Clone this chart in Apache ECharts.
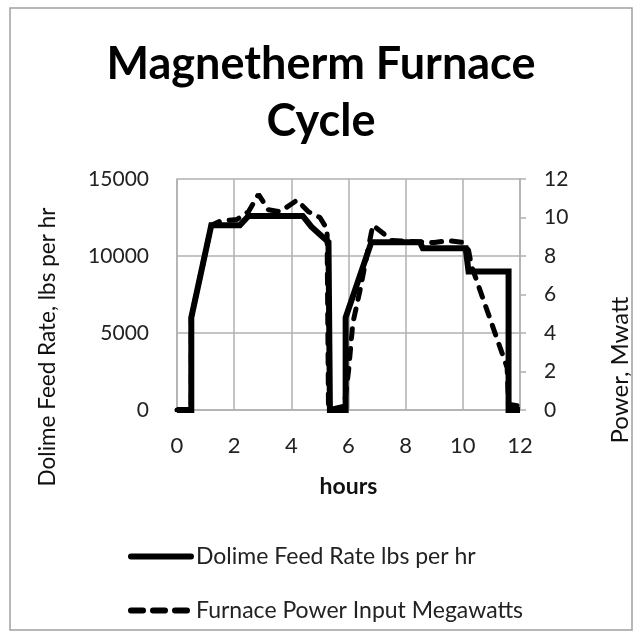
<!DOCTYPE html>
<html>
<head>
<meta charset="utf-8">
<script src="https://cdn.jsdelivr.net/npm/echarts@6/dist/echarts.min.js"></script>
<style>html,body{margin:0;padding:0;background:#fff}#c{width:642px;height:638px}</style>
</head>
<body>
<div id="c"></div>
<script>
// hours, Dolime feed rate (lbs per hr)
const feedHours = [0, 0.5, 0.5, 1.2, 2.2, 2.5, 4.4, 4.7, 5.0, 5.3, 5.35, 5.9, 5.9, 6.8, 8.5, 8.6, 10.1, 10.2, 11.6, 11.6, 12];
const feedRate  = [0, 0, 6000, 12000, 12000, 12600, 12600, 11900, 11400, 10900, 0, 0, 6000, 10900, 10900, 10500, 10500, 9000, 9000, 0, 0];
// hours, Furnace power input (MW)
const powerHours = [0, 0.5, 0.5, 1.2, 1.5, 2.1, 2.5, 2.85, 3.2, 3.6, 4.2, 4.6, 5.0, 5.25, 5.3, 5.85, 6.0, 6.15, 6.4, 6.85, 7.2, 7.5, 9.0, 9.5, 10.0, 10.2, 10.3, 11.55, 11.6, 12];
const powerMW    = [0, 0, 4.8, 9.6, 9.8, 9.9, 10.3, 11.2, 10.4, 10.3, 10.9, 10.3, 10.0, 9.4, 0, 0.2, 2.0, 4.5, 6.2, 9.6, 9.2, 8.8, 8.7, 8.8, 8.7, 8.3, 7.5, 2.2, 0.3, 0.2];
const xTicks = [0, 2, 4, 6, 8, 10, 12];
const leftTicks = [0, 5000, 10000, 15000];
const rightTicks = [0, 2, 4, 6, 8, 10, 12];
const seriesNames = ['Dolime Feed Rate lbs per hr', 'Furnace Power Input Megawatts'];

const FONT = 'Lato';
const feedData = feedHours.map((h, i) => [h, feedRate[i]]);
const powerData = powerHours.map((h, i) => [h, powerMW[i]]);

const chart = echarts.init(document.getElementById('c'), null, {renderer: 'canvas'});
chart.setOption({
  animation: false,
  backgroundColor: '#fff',
  textStyle: {fontFamily: FONT},
  title: {
    text: 'Magnetherm Furnace\nCycle',
    left: 'center',
    top: 31,
    textStyle: {fontFamily: FONT, fontSize: 45, fontWeight: 'bold', lineHeight: 57, color: '#000'}
  },
  grid: {left: 177, top: 179, width: 343, height: 231, containLabel: false},
  xAxis: {
    type: 'value', min: xTicks[0], max: xTicks[xTicks.length - 1], interval: 2,
    name: 'hours', nameLocation: 'middle', nameGap: 65,
    nameTextStyle: {fontFamily: FONT, fontSize: 23, fontWeight: 'bold', color: '#111'},
    axisLine: {show: true, lineStyle: {color: '#b0b0b0', width: 1.5}},
    axisTick: {show: false},
    axisLabel: {margin: 25, fontSize: 22, color: '#222', fontFamily: FONT},
    splitLine: {show: true, lineStyle: {color: '#b0b0b0', width: 1.5}}
  },
  yAxis: [{
    type: 'value', min: leftTicks[0], max: leftTicks[leftTicks.length - 1], interval: 5000,
    axisLine: {show: true, lineStyle: {color: '#b0b0b0', width: 1.5}},
    axisTick: {show: false},
    axisLabel: {margin: 28, fontSize: 21, color: '#222', fontFamily: FONT, formatter: v => String(v)},
    splitLine: {show: true, lineStyle: {color: '#b0b0b0', width: 1.5}}
  }, {
    type: 'value', min: rightTicks[0], max: rightTicks[rightTicks.length - 1], interval: 2,
    position: 'right',
    axisLine: {show: true, lineStyle: {color: '#b0b0b0', width: 1.5}},
    axisTick: {show: true, length: 6, inside: false, lineStyle: {color: '#b0b0b0', width: 1.5}},
    axisLabel: {margin: 24, fontSize: 21, color: '#222', fontFamily: FONT},
    splitLine: {show: false}
  }],
  legend: {
    orient: 'vertical', left: 123, top: 540, itemWidth: 60, itemHeight: 22, itemGap: 31,
    textStyle: {fontFamily: FONT, fontSize: 23, color: '#222'},
    itemStyle: {opacity: 0},
    data: [
      {name: seriesNames[0], lineStyle: {width: 6, color: '#000', type: 'solid', cap: 'round'}},
      {name: seriesNames[1], lineStyle: {width: 6, color: '#000', type: [12, 10], cap: 'round'}}
    ]
  },
  graphic: [
    {type: 'rect', shape: {x: 10, y: 8, width: 622, height: 622}, style: {fill: 'none', stroke: '#a0a0a0', lineWidth: 1.5}, silent: true},
    {type: 'text', x: 48, y: 347, rotation: Math.PI / 2,
     style: {text: 'Dolime Feed Rate, lbs per hr', fontFamily: FONT, fontSize: 22.5, fill: '#111', align: 'center', verticalAlign: 'middle'}},
    {type: 'text', x: 620, y: 370, rotation: Math.PI / 2,
     style: {text: 'Power, Mwatt', fontFamily: FONT, fontSize: 24, fill: '#111', align: 'center', verticalAlign: 'middle'}}
  ],
  series: [{
    name: seriesNames[0], type: 'line', yAxisIndex: 0,
    data: feedData, showSymbol: false, symbol: 'none',
    lineStyle: {color: '#000', width: 6, join: 'miter'}, itemStyle: {color: '#000'}, z: 2
  }, {
    name: seriesNames[1], type: 'line', yAxisIndex: 1,
    data: powerData, showSymbol: false, symbol: 'none',
    lineStyle: {color: '#000', width: 5, type: [10, 10], cap: 'round'}, itemStyle: {color: '#000'}, z: 3
  }]
});
</script>
</body>
</html>
